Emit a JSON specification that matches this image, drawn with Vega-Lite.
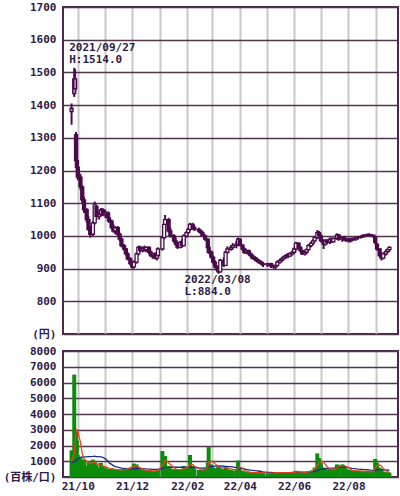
{
  "$schema": "https://vega.github.io/schema/vega-lite/v6.json",
  "background": "white",
  "padding": {"left": 2, "top": 0, "right": 3, "bottom": 2},
  "spacing": 17,
  "bounds": "flush",
  "config": {
    "view": {"stroke": "#4a2a4a", "strokeWidth": 2},
    "axis": {"labelFont": "'DejaVu Sans Mono', 'Noto Sans CJK JP'", "labelFontSize": 11, "labelFontWeight": "bold", "labelColor": "#2d1a47", "ticks": false, "domain": false, "gridOpacity": 1, "labelOverlap": false},
    "axisY": {"gridColor": "#52344f", "gridWidth": 1.5, "labelPadding": 7},
    "axisX": {"gridColor": "#c8c8c8", "gridWidth": 2, "labelPadding": 3, "labelFlush": false}
  },
  "datasets": {
    "px": [
      {"d":"2021-09-24","o":1390,"h":1405,"l":1340,"c":1380,"v":1700,"r":1000,"b":900},
      {"d":"2021-09-27","o":1435,"h":1514,"l":1425,"c":1480,"v":6500,"r":1500,"b":950},
      {"d":"2021-09-28","o":1480,"h":1510,"l":1440,"c":1450,"v":2400,"r":2100,"b":1000},
      {"d":"2021-09-29","o":1310,"h":1318,"l":1215,"c":1230,"v":3000,"r":2700,"b":1050},
      {"d":"2021-09-30","o":1230,"h":1240,"l":1200,"c":1210,"v":2300,"r":3000,"b":1100},
      {"d":"2021-10-01","o":1210,"h":1215,"l":1170,"c":1180,"v":1400,"r":2900,"b":1150},
      {"d":"2021-10-04","o":1180,"h":1190,"l":1140,"c":1150,"v":1200,"r":2200,"b":1250},
      {"d":"2021-10-06","o":1150,"h":1155,"l":1100,"c":1110,"v":900,"r":1500,"b":1270},
      {"d":"2021-10-08","o":1110,"h":1120,"l":1070,"c":1080,"v":1100,"r":1150,"b":1280},
      {"d":"2021-10-11","o":1080,"h":1085,"l":1040,"c":1050,"v":700,"r":1000,"b":1280,"t":1100},
      {"d":"2021-10-13","o":1050,"h":1060,"l":1015,"c":1020,"v":1000,"r":900,"b":1290},
      {"d":"2021-10-15","o":1020,"h":1030,"l":995,"c":1005,"v":800,"r":850,"b":1300},
      {"d":"2021-10-18","o":1005,"h":1045,"l":1000,"c":1040,"v":1100,"r":900,"b":1310},
      {"d":"2021-10-20","o":1040,"h":1105,"l":1035,"c":1095,"v":1000,"r":950,"b":1320,"t":950},
      {"d":"2021-10-22","o":1090,"h":1095,"l":1050,"c":1060,"v":800,"r":850,"b":1300},
      {"d":"2021-10-25","o":1060,"h":1075,"l":1050,"c":1065,"v":600,"r":800,"b":1290},
      {"d":"2021-10-27","o":1065,"h":1085,"l":1060,"c":1080,"v":900,"r":750,"b":1280},
      {"d":"2021-10-29","o":1080,"h":1085,"l":1060,"c":1065,"v":700,"r":700,"b":1250},
      {"d":"2021-11-01","o":1065,"h":1080,"l":1055,"c":1070,"v":600,"r":650,"b":1150,"t":900},
      {"d":"2021-11-04","o":1070,"h":1075,"l":1050,"c":1055,"v":500,"r":580,"b":1000},
      {"d":"2021-11-05","o":1055,"h":1060,"l":1040,"c":1045,"v":450,"r":530,"b":900},
      {"d":"2021-11-08","o":1045,"h":1050,"l":1020,"c":1025,"v":550,"r":520,"b":800},
      {"d":"2021-11-10","o":1025,"h":1035,"l":1010,"c":1015,"v":500,"r":500,"b":720},
      {"d":"2021-11-12","o":1015,"h":1030,"l":1005,"c":1025,"v":450,"r":480,"b":660},
      {"d":"2021-11-15","o":1025,"h":1030,"l":1000,"c":1005,"v":480,"r":470,"b":620,"t":890},
      {"d":"2021-11-17","o":1005,"h":1010,"l":985,"c":990,"v":420,"r":450,"b":600},
      {"d":"2021-11-19","o":990,"h":995,"l":965,"c":970,"v":450,"r":460,"b":570},
      {"d":"2021-11-22","o":970,"h":975,"l":955,"c":960,"v":500,"r":470,"b":550},
      {"d":"2021-11-24","o":960,"h":962,"l":940,"c":945,"v":450,"r":480,"b":530},
      {"d":"2021-11-26","o":945,"h":950,"l":925,"c":930,"v":550,"r":500,"b":520},
      {"d":"2021-11-29","o":930,"h":935,"l":910,"c":915,"v":600,"r":550,"b":520},
      {"d":"2021-12-01","o":915,"h":920,"l":900,"c":905,"v":650,"r":600,"b":520,"t":880},
      {"d":"2021-12-03","o":905,"h":925,"l":900,"c":920,"v":850,"r":680,"b":530},
      {"d":"2021-12-06","o":920,"h":950,"l":915,"c":945,"v":800,"r":720,"b":540},
      {"d":"2021-12-08","o":945,"h":970,"l":940,"c":965,"v":600,"r":650,"b":540},
      {"d":"2021-12-10","o":965,"h":970,"l":950,"c":955,"v":500,"r":580,"b":540},
      {"d":"2021-12-13","o":955,"h":968,"l":950,"c":962,"v":450,"r":500,"b":530},
      {"d":"2021-12-15","o":962,"h":970,"l":952,"c":958,"v":400,"r":450,"b":520,"t":870},
      {"d":"2021-12-17","o":958,"h":968,"l":950,"c":965,"v":420,"r":420,"b":510},
      {"d":"2021-12-20","o":965,"h":968,"l":945,"c":950,"v":400,"r":410,"b":500},
      {"d":"2021-12-22","o":950,"h":955,"l":935,"c":940,"v":380,"r":400,"b":500},
      {"d":"2021-12-24","o":940,"h":948,"l":930,"c":945,"v":350,"r":380,"b":490},
      {"d":"2021-12-27","o":945,"h":950,"l":928,"c":932,"v":380,"r":380,"b":480},
      {"d":"2021-12-29","o":932,"h":945,"l":925,"c":940,"v":400,"r":390,"b":480},
      {"d":"2021-12-30","o":940,"h":965,"l":935,"c":960,"v":500,"r":420,"b":480},
      {"d":"2022-01-04","o":960,"h":1000,"l":955,"c":995,"v":1650,"r":750,"b":530,"t":880},
      {"d":"2022-01-06","o":995,"h":1040,"l":990,"c":1035,"v":900,"r":900,"b":560},
      {"d":"2022-01-07","o":1035,"h":1064,"l":1020,"c":1050,"v":1330,"r":1050,"b":600},
      {"d":"2022-01-11","o":1050,"h":1055,"l":1010,"c":1015,"v":700,"r":900,"b":610},
      {"d":"2022-01-13","o":1015,"h":1025,"l":995,"c":1000,"v":550,"r":800,"b":620,"t":860},
      {"d":"2022-01-17","o":1000,"h":1005,"l":980,"c":985,"v":500,"r":600,"b":620},
      {"d":"2022-01-19","o":985,"h":995,"l":970,"c":975,"v":450,"r":500,"b":620},
      {"d":"2022-01-21","o":975,"h":980,"l":960,"c":965,"v":480,"r":480,"b":620,"t":720},
      {"d":"2022-01-24","o":965,"h":985,"l":962,"c":980,"v":450,"r":470,"b":620},
      {"d":"2022-01-26","o":980,"h":990,"l":965,"c":970,"v":500,"r":480,"b":620},
      {"d":"2022-01-28","o":970,"h":1005,"l":968,"c":1000,"v":700,"r":550,"b":630},
      {"d":"2022-01-31","o":1000,"h":1015,"l":995,"c":1010,"v":600,"r":580,"b":630,"t":650},
      {"d":"2022-02-02","o":1010,"h":1025,"l":1005,"c":1020,"v":650,"r":620,"b":620},
      {"d":"2022-02-04","o":1020,"h":1040,"l":1015,"c":1035,"v":1400,"r":800,"b":620},
      {"d":"2022-02-07","o":1035,"h":1040,"l":1020,"c":1025,"v":700,"r":780,"b":600},
      {"d":"2022-02-09","o":1025,"h":1032,"l":1015,"c":1020,"v":500,"r":700,"b":580},
      {"d":"2022-02-14","o":1020,"h":1025,"l":1010,"c":1015,"v":450,"r":550,"b":570,"t":640},
      {"d":"2022-02-16","o":1015,"h":1020,"l":1005,"c":1010,"v":400,"r":450,"b":560},
      {"d":"2022-02-18","o":1010,"h":1015,"l":998,"c":1000,"v":450,"r":450,"b":560},
      {"d":"2022-02-21","o":1000,"h":1005,"l":985,"c":990,"v":500,"r":470,"b":570},
      {"d":"2022-02-24","o":990,"h":992,"l":960,"c":965,"v":900,"r":600,"b":600},
      {"d":"2022-02-25","o":965,"h":975,"l":945,"c":950,"v":1900,"r":950,"b":650},
      {"d":"2022-02-28","o":950,"h":955,"l":930,"c":935,"v":800,"r":1000,"b":670,"t":660},
      {"d":"2022-03-02","o":935,"h":940,"l":915,"c":920,"v":600,"r":950,"b":680},
      {"d":"2022-03-04","o":920,"h":925,"l":900,"c":905,"v":550,"r":850,"b":690},
      {"d":"2022-03-07","o":905,"h":910,"l":890,"c":895,"v":600,"r":700,"b":700},
      {"d":"2022-03-08","o":895,"h":905,"l":884,"c":890,"v":650,"r":640,"b":700},
      {"d":"2022-03-10","o":890,"h":930,"l":888,"c":925,"v":550,"r":600,"b":700},
      {"d":"2022-03-14","o":925,"h":935,"l":905,"c":910,"v":500,"r":580,"b":690,"t":660},
      {"d":"2022-03-16","o":910,"h":955,"l":908,"c":950,"v":700,"r":600,"b":680},
      {"d":"2022-03-18","o":950,"h":968,"l":945,"c":960,"v":500,"r":580,"b":670},
      {"d":"2022-03-22","o":960,"h":972,"l":955,"c":965,"v":450,"r":520,"b":660},
      {"d":"2022-03-24","o":965,"h":978,"l":958,"c":970,"v":400,"r":480,"b":640},
      {"d":"2022-03-28","o":970,"h":985,"l":962,"c":975,"v":450,"r":450,"b":600},
      {"d":"2022-03-30","o":975,"h":995,"l":970,"c":990,"v":1050,"r":600,"b":580,"t":640},
      {"d":"2022-04-01","o":990,"h":992,"l":968,"c":972,"v":500,"r":620,"b":560},
      {"d":"2022-04-04","o":972,"h":975,"l":955,"c":960,"v":400,"r":560,"b":540},
      {"d":"2022-04-06","o":960,"h":965,"l":945,"c":950,"v":350,"r":450,"b":510},
      {"d":"2022-04-08","o":950,"h":960,"l":945,"c":955,"v":300,"r":380,"b":480},
      {"d":"2022-04-11","o":955,"h":958,"l":940,"c":945,"v":300,"r":320,"b":450},
      {"d":"2022-04-13","o":945,"h":950,"l":935,"c":940,"v":280,"r":300,"b":430},
      {"d":"2022-04-15","o":940,"h":945,"l":928,"c":932,"v":300,"r":290,"b":420,"t":600},
      {"d":"2022-04-18","o":932,"h":938,"l":922,"c":928,"v":250,"r":280,"b":400},
      {"d":"2022-04-20","o":928,"h":935,"l":920,"c":925,"v":280,"r":270,"b":390},
      {"d":"2022-04-22","o":925,"h":930,"l":915,"c":920,"v":250,"r":270,"b":380},
      {"d":"2022-04-25","o":920,"h":925,"l":910,"c":915,"v":300,"r":270,"b":350},
      {"d":"2022-04-27","o":915,"h":920,"l":905,"c":912,"v":250,"r":260,"b":320},
      {"d":"2022-05-02","o":912,"h":918,"l":905,"c":915,"v":230,"r":250,"b":300,"t":540},
      {"d":"2022-05-06","o":915,"h":918,"l":902,"c":908,"v":250,"r":250,"b":290},
      {"d":"2022-05-09","o":908,"h":912,"l":900,"c":905,"v":280,"r":260,"b":280},
      {"d":"2022-05-11","o":905,"h":912,"l":898,"c":910,"v":300,"r":270,"b":275},
      {"d":"2022-05-13","o":910,"h":925,"l":905,"c":920,"v":250,"r":270,"b":270},
      {"d":"2022-05-16","o":920,"h":930,"l":915,"c":925,"v":270,"r":270,"b":270},
      {"d":"2022-05-18","o":925,"h":935,"l":920,"c":930,"v":250,"r":260,"b":270},
      {"d":"2022-05-20","o":930,"h":940,"l":925,"c":935,"v":300,"r":270,"b":270,"t":470},
      {"d":"2022-05-23","o":935,"h":945,"l":930,"c":940,"v":280,"r":280,"b":270},
      {"d":"2022-05-25","o":940,"h":948,"l":932,"c":938,"v":260,"r":280,"b":275},
      {"d":"2022-05-27","o":938,"h":950,"l":935,"c":945,"v":300,"r":280,"b":280},
      {"d":"2022-05-30","o":945,"h":955,"l":940,"c":950,"v":280,"r":285,"b":285},
      {"d":"2022-06-01","o":950,"h":965,"l":945,"c":960,"v":320,"r":300,"b":290,"t":420},
      {"d":"2022-06-03","o":960,"h":982,"l":955,"c":978,"v":400,"r":330,"b":300},
      {"d":"2022-06-06","o":978,"h":980,"l":960,"c":965,"v":350,"r":340,"b":305},
      {"d":"2022-06-08","o":965,"h":968,"l":950,"c":955,"v":300,"r":330,"b":310},
      {"d":"2022-06-10","o":955,"h":958,"l":942,"c":945,"v":280,"r":310,"b":310},
      {"d":"2022-06-13","o":945,"h":955,"l":940,"c":950,"v":300,"r":300,"b":310},
      {"d":"2022-06-15","o":950,"h":962,"l":945,"c":958,"v":320,"r":310,"b":315},
      {"d":"2022-06-17","o":958,"h":975,"l":955,"c":970,"v":350,"r":330,"b":320,"t":360},
      {"d":"2022-06-20","o":970,"h":982,"l":965,"c":978,"v":400,"r":360,"b":330},
      {"d":"2022-06-22","o":978,"h":990,"l":972,"c":985,"v":450,"r":400,"b":340},
      {"d":"2022-06-24","o":985,"h":1000,"l":980,"c":995,"v":600,"r":480,"b":360},
      {"d":"2022-06-27","o":995,"h":1018,"l":990,"c":1010,"v":1500,"r":750,"b":420},
      {"d":"2022-06-29","o":1010,"h":1015,"l":995,"c":1000,"v":1200,"r":900,"b":470},
      {"d":"2022-07-01","o":1000,"h":1005,"l":980,"c":985,"v":900,"r":1000,"b":500,"t":380},
      {"d":"2022-07-04","o":985,"h":990,"l":960,"c":975,"v":600,"r":950,"b":520},
      {"d":"2022-07-06","o":975,"h":990,"l":970,"c":985,"v":500,"r":800,"b":530},
      {"d":"2022-07-08","o":985,"h":990,"l":975,"c":980,"v":450,"r":650,"b":540},
      {"d":"2022-07-11","o":980,"h":995,"l":975,"c":990,"v":500,"r":520,"b":550},
      {"d":"2022-07-13","o":990,"h":995,"l":978,"c":982,"v":450,"r":480,"b":560},
      {"d":"2022-07-15","o":982,"h":995,"l":980,"c":992,"v":500,"r":480,"b":570,"t":420},
      {"d":"2022-07-19","o":992,"h":1008,"l":988,"c":1003,"v":800,"r":580,"b":590},
      {"d":"2022-07-21","o":1003,"h":1006,"l":985,"c":990,"v":750,"r":650,"b":610},
      {"d":"2022-07-25","o":990,"h":998,"l":982,"c":995,"v":800,"r":720,"b":630},
      {"d":"2022-07-27","o":995,"h":1000,"l":985,"c":988,"v":700,"r":730,"b":640},
      {"d":"2022-07-29","o":988,"h":995,"l":982,"c":990,"v":550,"r":680,"b":620},
      {"d":"2022-08-01","o":990,"h":995,"l":980,"c":985,"v":450,"r":600,"b":590,"t":460},
      {"d":"2022-08-03","o":985,"h":992,"l":980,"c":988,"v":400,"r":500,"b":570},
      {"d":"2022-08-05","o":988,"h":995,"l":983,"c":992,"v":400,"r":420,"b":550},
      {"d":"2022-08-08","o":992,"h":998,"l":985,"c":990,"v":380,"r":400,"b":530},
      {"d":"2022-08-10","o":990,"h":998,"l":986,"c":995,"v":400,"r":390,"b":510},
      {"d":"2022-08-12","o":995,"h":1000,"l":990,"c":997,"v":380,"r":390,"b":500},
      {"d":"2022-08-15","o":997,"h":1002,"l":992,"c":998,"v":350,"r":380,"b":490,"t":490},
      {"d":"2022-08-17","o":998,"h":1005,"l":994,"c":1000,"v":380,"r":370,"b":480},
      {"d":"2022-08-19","o":1000,"h":1005,"l":996,"c":1002,"v":350,"r":360,"b":470},
      {"d":"2022-08-22","o":1002,"h":1007,"l":998,"c":1004,"v":350,"r":350,"b":460},
      {"d":"2022-08-24","o":1004,"h":1008,"l":1000,"c":1003,"v":330,"r":350,"b":450},
      {"d":"2022-08-26","o":1003,"h":1006,"l":998,"c":1002,"v":350,"r":350,"b":430},
      {"d":"2022-08-29","o":1002,"h":1004,"l":995,"c":1000,"v":400,"r":370,"b":420},
      {"d":"2022-08-31","o":995,"h":998,"l":975,"c":980,"v":1150,"r":550,"b":440},
      {"d":"2022-09-02","o":975,"h":978,"l":955,"c":960,"v":900,"r":720,"b":460,"t":500},
      {"d":"2022-09-05","o":960,"h":962,"l":935,"c":940,"v":600,"r":760,"b":470},
      {"d":"2022-09-07","o":940,"h":945,"l":925,"c":932,"v":450,"r":700,"b":470},
      {"d":"2022-09-09","o":932,"h":950,"l":928,"c":945,"v":350,"r":560,"b":460},
      {"d":"2022-09-12","o":945,"h":958,"l":940,"c":952,"v":300,"r":400,"b":450},
      {"d":"2022-09-14","o":952,"h":962,"l":948,"c":958,"v":300,"r":330,"b":440},
      {"d":"2022-09-16","o":958,"h":968,"l":952,"c":965,"v":280,"r":300,"b":430,"t":490}
    ],
    "ann": [
      {"d":"2021-09-27","p":1514,"lab":"2021/09/27\nH:1514.0","kind":"hi"},
      {"d":"2022-03-08","p":884,"lab":"2022/03/08\nL:884.0","kind":"lo"}
    ]
  },
  "vconcat": [
    {
      "width": 335,
      "height": 327,
      "data": {"name": "px"},
      "encoding": {
        "x": {
          "field": "d", "type": "temporal", "title": null,
          "scale": {"domain": [{"year":2021,"month":9,"date":20},{"year":2022,"month":9,"date":20}], "nice": false},
          "axis": {"labels": false, "ticks": false, "domain": false, "grid": true,
            "values": [{"year":2021,"month":10,"date":1},{"year":2021,"month":11,"date":1},{"year":2021,"month":12,"date":1},{"year":2022,"month":1,"date":1},{"year":2022,"month":2,"date":1},{"year":2022,"month":3,"date":1},{"year":2022,"month":4,"date":1},{"year":2022,"month":5,"date":1},{"year":2022,"month":6,"date":1},{"year":2022,"month":7,"date":1},{"year":2022,"month":8,"date":1},{"year":2022,"month":9,"date":1}]}
        }
      },
      "layer": [
        {
          "mark": {"type": "rule", "color": "#4a0a4a", "strokeWidth": 2},
          "encoding": {
            "y": {"field": "l", "type": "quantitative", "title": null,
              "scale": {"domain": [700, 1700], "nice": false, "zero": false},
              "axis": {"values": [700,800,900,1000,1100,1200,1300,1400,1500,1600,1700], "format": "d", "labelExpr": "datum.value == 700 ? '(円)' : datum.label"}},
            "y2": {"field": "h"}
          }
        },
        {
          "mark": {"type": "bar", "size": 3, "stroke": "#4a0a4a", "strokeWidth": 1.3},
          "encoding": {
            "y": {"field": "o", "type": "quantitative", "title": null,
              "scale": {"domain": [700, 1700], "nice": false, "zero": false},
              "axis": {"values": [700,800,900,1000,1100,1200,1300,1400,1500,1600,1700], "format": "d", "labelExpr": "datum.value == 700 ? '(円)' : datum.label"}},
            "y2": {"field": "c"},
            "fill": {"condition": [{"test": "datum.o >= 1380", "value": "#a98aab"}, {"test": "datum.c > datum.o", "value": "#ffffff"}], "value": "#4a0a4a"}
          }
        },
        {
          "data": {"name": "ann"},
          "transform": [{"filter": "datum.kind == 'hi'"}],
          "mark": {"type": "text", "align": "left", "baseline": "top", "dx": -5, "dy": -26, "lineBreak": "\n", "lineHeight": 12, "font": "DejaVu Sans Mono", "fontSize": 11, "fontWeight": "bold", "color": "#2d1a47"},
          "encoding": {
            "y": {"field": "p", "type": "quantitative", "title": null,
              "scale": {"domain": [700, 1700], "nice": false, "zero": false},
              "axis": {"values": [700,800,900,1000,1100,1200,1300,1400,1500,1600,1700], "format": "d", "labelExpr": "datum.value == 700 ? '(円)' : datum.label"}},
            "text": {"field": "lab"}}
        },
        {
          "data": {"name": "ann"},
          "transform": [{"filter": "datum.kind == 'lo'"}],
          "mark": {"type": "text", "align": "left", "baseline": "top", "dx": -34, "dy": 0, "lineBreak": "\n", "lineHeight": 12, "font": "DejaVu Sans Mono", "fontSize": 11, "fontWeight": "bold", "color": "#2d1a47"},
          "encoding": {
            "y": {"field": "p", "type": "quantitative", "title": null,
              "scale": {"domain": [700, 1700], "nice": false, "zero": false},
              "axis": {"values": [700,800,900,1000,1100,1200,1300,1400,1500,1600,1700], "format": "d", "labelExpr": "datum.value == 700 ? '(円)' : datum.label"}},
            "text": {"field": "lab"}}
        }
      ]
    },
    {
      "width": 335,
      "height": 126,
      "data": {"name": "px"},
      "encoding": {
        "x": {
          "field": "d", "type": "temporal", "title": null,
          "scale": {"domain": [{"year":2021,"month":9,"date":20},{"year":2022,"month":9,"date":20}], "nice": false},
          "axis": {"ticks": false, "domain": false, "grid": true,
            "values": [{"year":2021,"month":10,"date":1},{"year":2021,"month":11,"date":1},{"year":2021,"month":12,"date":1},{"year":2022,"month":1,"date":1},{"year":2022,"month":2,"date":1},{"year":2022,"month":3,"date":1},{"year":2022,"month":4,"date":1},{"year":2022,"month":5,"date":1},{"year":2022,"month":6,"date":1},{"year":2022,"month":7,"date":1},{"year":2022,"month":8,"date":1},{"year":2022,"month":9,"date":1}],
            "labelExpr": "month(datum.value) % 2 == 1 ? timeFormat(datum.value, '%y/%m') : ''"}
        }
      },
      "layer": [
        {
          "mark": {"type": "bar", "size": 4, "color": "#0c8c0c"},
          "encoding": {
            "y": {"field": "v", "type": "quantitative", "title": null,
              "scale": {"domain": [0, 8000], "nice": false},
              "axis": {"values": [0,1000,2000,3000,4000,5000,6000,7000,8000], "format": "d", "labelExpr": "datum.value == 0 ? '(百株/口)' : datum.label"}}
          }
        },
        {
          "mark": {"type": "line", "color": "#2a9a9a", "strokeWidth": 1.3},
          "encoding": {"y": {"field": "t", "type": "quantitative", "title": null,
              "scale": {"domain": [0, 8000], "nice": false},
              "axis": {"values": [0,1000,2000,3000,4000,5000,6000,7000,8000], "format": "d", "labelExpr": "datum.value == 0 ? '(百株/口)' : datum.label"}}}
        },
        {
          "mark": {"type": "line", "color": "#1a2a8a", "strokeWidth": 1.3},
          "encoding": {"y": {"field": "b", "type": "quantitative", "title": null,
              "scale": {"domain": [0, 8000], "nice": false},
              "axis": {"values": [0,1000,2000,3000,4000,5000,6000,7000,8000], "format": "d", "labelExpr": "datum.value == 0 ? '(百株/口)' : datum.label"}}}
        },
        {
          "mark": {"type": "line", "color": "#e8401a", "strokeWidth": 1.3},
          "encoding": {"y": {"field": "r", "type": "quantitative", "title": null,
              "scale": {"domain": [0, 8000], "nice": false},
              "axis": {"values": [0,1000,2000,3000,4000,5000,6000,7000,8000], "format": "d", "labelExpr": "datum.value == 0 ? '(百株/口)' : datum.label"}}}
        }
      ]
    }
  ]
}
